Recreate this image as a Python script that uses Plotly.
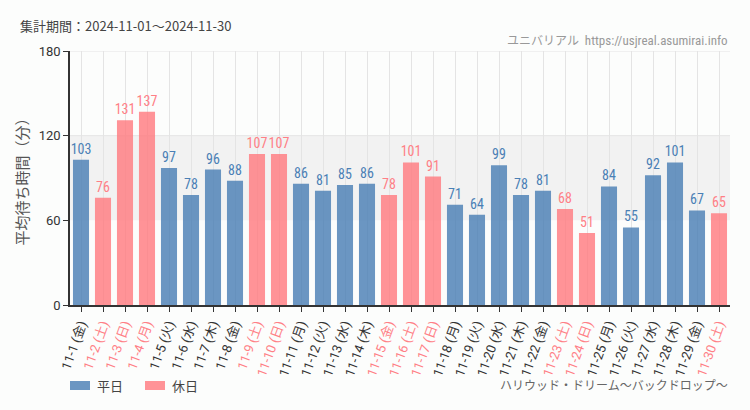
import plotly.graph_objects as go

dates = ["11-1", "11-2", "11-3", "11-4", "11-5", "11-6", "11-7", "11-8", "11-9", "11-10",
         "11-11", "11-12", "11-13", "11-14", "11-15", "11-16", "11-17", "11-18", "11-19", "11-20",
         "11-21", "11-22", "11-23", "11-24", "11-25", "11-26", "11-27", "11-28", "11-29", "11-30"]
weekdays = ["金", "土", "日", "月", "火", "水", "木", "金", "土", "日",
            "月", "火", "水", "木", "金", "土", "日", "月", "火", "水",
            "木", "金", "土", "日", "月", "火", "水", "木", "金", "土"]
holiday = [0, 1, 1, 1, 0, 0, 0, 0, 1, 1,
           0, 0, 0, 0, 1, 1, 1, 0, 0, 0,
           0, 0, 1, 1, 0, 0, 0, 0, 0, 1]
values = [103, 76, 131, 137, 97, 78, 96, 88, 107, 107,
          86, 81, 85, 86, 78, 101, 91, 71, 64, 99,
          78, 81, 68, 51, 84, 55, 92, 101, 67, 65]
y_ticks = [0, 60, 120, 180]

BLUE = "rgba(74,127,181,0.82)"
PINK = "rgba(255,120,125,0.8)"
BLUE_T = "#4a7fb5"
PINK_T = "#ff7f86"
NARROW = "Roboto Condensed, Noto Sans CJK JP, sans-serif"

cats = [f"{d} ({w})" for d, w in zip(dates, weekdays)]
ticktext = []
for c, h in zip(cats, holiday):
    col = PINK_T if h else "#333333"
    ticktext.append(f'<span style="color:{col}">{c}</span>')

fig = go.Figure()
fig.add_trace(go.Bar(
    x=cats, y=values,
    marker=dict(color=[PINK if h else BLUE for h in holiday], line=dict(width=0)),
    text=[str(v) for v in values], textposition="outside", constraintext="none",
    textfont=dict(family=NARROW, size=14, color=[PINK_T if h else BLUE_T for h in holiday]),
    cliponaxis=False, showlegend=False, hoverinfo="skip",
))

fig.update_layout(
    width=750, height=410,
    margin=dict(l=70, r=20, t=51, b=105),
    paper_bgcolor="#fcfdfc", plot_bgcolor="rgba(0,0,0,0)",
    bargap=0.27,
    font=dict(family="Noto Sans CJK JP, Noto Sans, sans-serif", color="#333"),
    xaxis=dict(
        tickmode="array", tickvals=cats, ticktext=ticktext, tickangle=-70,
        tickfont=dict(size=13, family="Roboto, Noto Sans CJK JP, sans-serif"),
        showgrid=True, gridcolor="#e4e4e4", gridwidth=1,
        showline=True, linecolor="#333", linewidth=1.5,
        ticks="outside", ticklen=5, tickcolor="#333",
        automargin=False,
    ),
    yaxis=dict(
        range=[0, 180], tickvals=y_ticks, ticktext=[str(t) for t in y_ticks],
        tickfont=dict(size=13, color="#333", family="Roboto, sans-serif"),
        showgrid=False, zeroline=False,
        showline=True, linecolor="#333", linewidth=1.5,
        ticks="outside", ticklen=5, tickcolor="#333",
        automargin=False,
        title=dict(text="平均待ち時間（分）", font=dict(size=15, color="#555"), standoff=6),
    ),
    shapes=[
        dict(type="rect", xref="paper", yref="y", x0=0, x1=1, y0=60, y1=120,
             fillcolor="#f2f2f2", line=dict(width=0), layer="below"),
        dict(type="line", xref="paper", yref="y", x0=0, x1=1, y0=120, y1=120,
             line=dict(color="#e4e4e4", width=1), layer="below"),
        dict(type="line", xref="paper", yref="y", x0=0, x1=1, y0=180, y1=180,
             line=dict(color="#e4e4e4", width=1), layer="below"),
        dict(type="rect", xref="paper", yref="paper", x0=0, x1=20/660, y0=-85/254, y1=-76/254,
             fillcolor=BLUE, line=dict(width=0)),
        dict(type="rect", xref="paper", yref="paper", x0=75/660, x1=95/660, y0=-85/254, y1=-76/254,
             fillcolor=PINK, line=dict(width=0)),
    ],
    annotations=[
        dict(text="集計期間：2024-11-01～2024-11-30", xref="paper", yref="paper",
             x=-52/660, y=1 + 25/254, xanchor="left", yanchor="middle", showarrow=False,
             font=dict(size=13, color="#444")),
        dict(text="<span style='font-size:12px'>ユニバリアル</span>  https://usjreal.asumirai.info",
             xref="paper", yref="paper",
             x=1, y=1 + 11/254, xanchor="right", yanchor="middle", showarrow=False,
             font=dict(size=13, color="#999", family=NARROW)),
        dict(text="平日", xref="paper", yref="paper", x=25/660, y=-80.5/254,
             xanchor="left", yanchor="middle", showarrow=False, font=dict(size=13, color="#444")),
        dict(text="休日", xref="paper", yref="paper", x=100/660, y=-80.5/254,
             xanchor="left", yanchor="middle", showarrow=False, font=dict(size=13, color="#444")),
        dict(text="ハリウッド・ドリーム～バックドロップ～", xref="paper", yref="paper",
             x=1, y=-81/254, xanchor="right", yanchor="middle", showarrow=False,
             font=dict(size=12, color="#666", family=NARROW)),
    ],
)

fig.write_html("out.html", config={"displayModeBar": False},
               post_script="document.body.style.margin='0';")
